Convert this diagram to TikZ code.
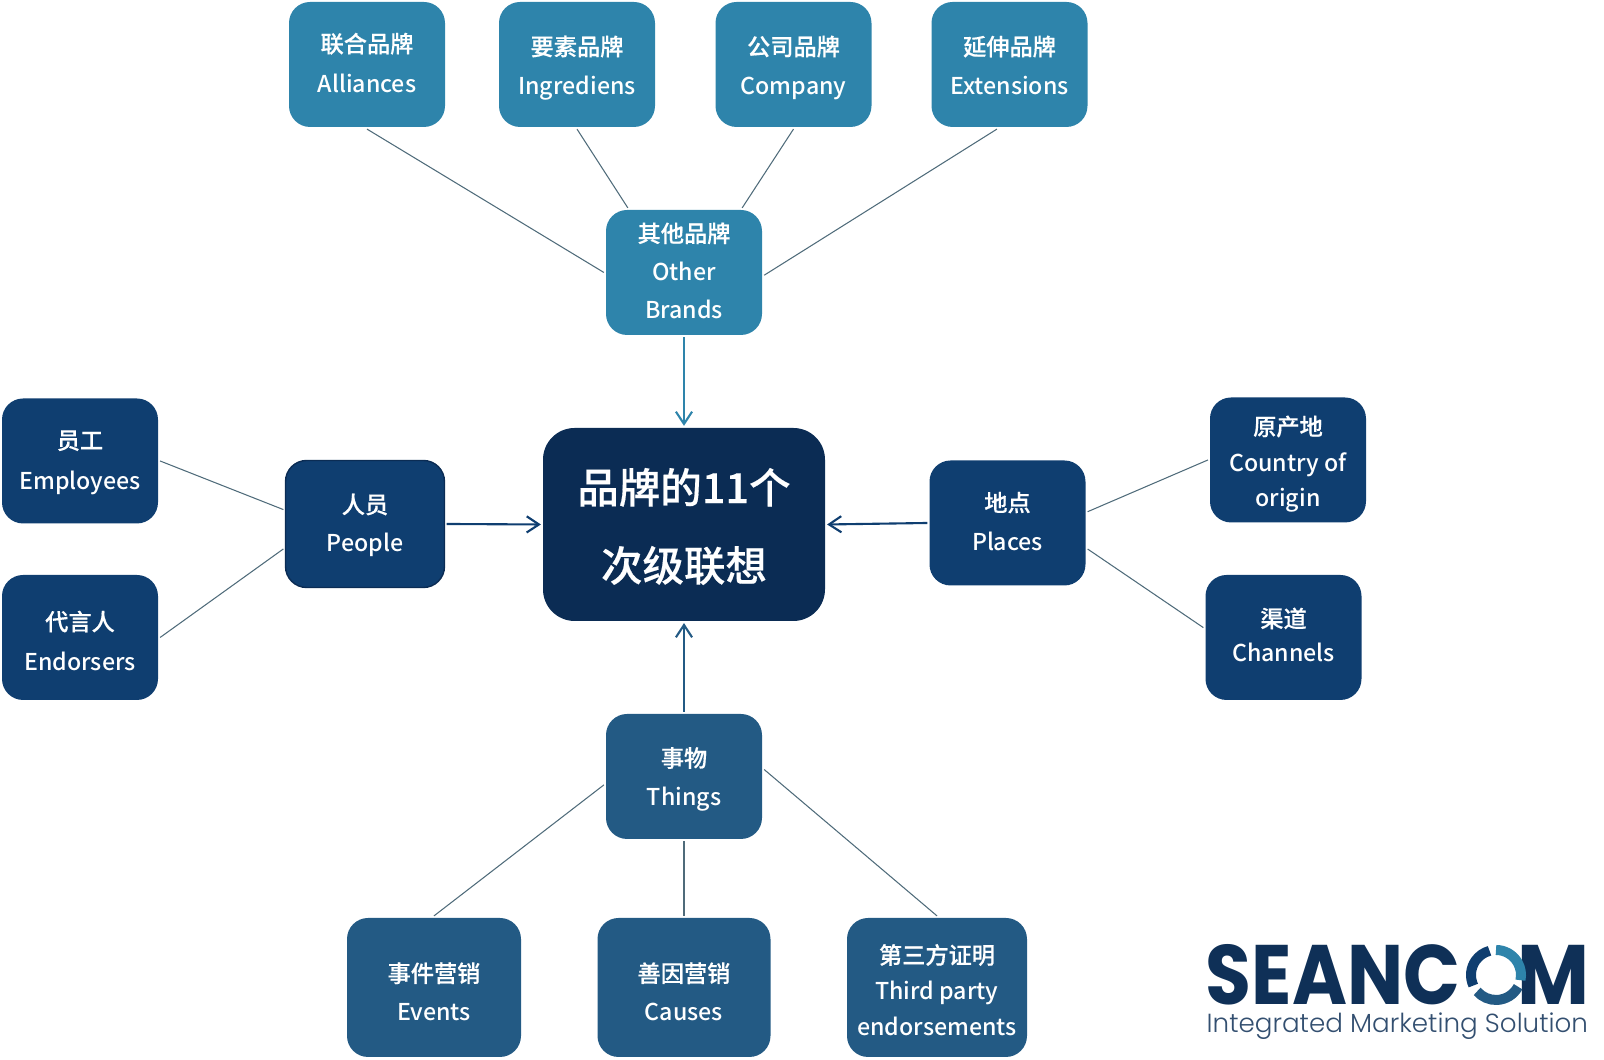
\documentclass[tikz,border=0pt]{standalone}
\usepackage{fontspec}
\usepackage{graphicx}
\setmainfont{Noto Sans CJK SC Medium}
\newfontfamily\han[FakeBold=0.35]{Noto Sans CJK SC Medium}
\newfontfamily\logofont{Poppins}
\newfontfamily\taglinefont{Poppins Light}
\usetikzlibrary{arrows.meta}
\definecolor{tealbox}{HTML}{2E84AB}
\definecolor{navybox}{HTML}{0F3E70}
\definecolor{midbox}{HTML}{235A84}
\definecolor{corebox}{HTML}{0B2C54}
\definecolor{logoink}{HTML}{0F3057}
\definecolor{linkgray}{HTML}{4F6B7A}

\begin{document}
\begin{tikzpicture}[
    >={Straight Barb[length=3.5pt,width=4.6pt]},
    brand/.style={
        rectangle,
        rounded corners=6pt,
        inner sep=0pt,
        outer sep=0.6pt,
        align=center,
        text=white,
        font=\fontsize{6.6}{11}\selectfont,
        minimum width=1.56cm,
        minimum height=1.25cm
    },
    link/.style={line width=0.3pt, linkgray},
    feed/.style={->, line width=0.6pt}
]
    \useasboundingbox (0, 0) rectangle (16.04, 10.6);

    % core
    \node (core) [brand, fill=corebox, rounded corners=9pt, minimum width=2.82cm,
        minimum height=1.93cm, font=\fontsize{11.8}{22.2}\selectfont\han, shift={(6.84, 5.355)}]
    {
        \rule{0pt}{16.7pt}品牌的11个\\次级联想\strut
    };

    % other brands
    \node (other) [brand, fill=tealbox, font=\fontsize{6.6}{10.8}\selectfont, shift={(6.84, 7.875)}]
    {
        \strut{\han 其他品牌}\\Other\\Brands\strut
    };
    \node (alliances) [brand, fill=tealbox, font=\fontsize{6.6}{11.4}\selectfont, shift={(3.67, 9.955)}]
    {
        \strut{\han 联合品牌}\\Alliances\strut
    };
    \node (ingredients) [brand, fill=tealbox, shift={(5.77, 9.955)}]
    {
        \rule{0pt}{9.1pt}{\han 要素品牌}\\Ingrediens\strut
    };
    \node (company) [brand, fill=tealbox, shift={(7.935, 9.955)}]
    {
        \rule{0pt}{9.1pt}{\han 公司品牌}\\Company\strut
    };
    \node (extensions) [brand, fill=tealbox, shift={(10.095, 9.955)}]
    {
        \rule{0pt}{9.1pt}{\han 延伸品牌}\\Extensions\strut
    };

    % people
    \node (people) [brand, fill=navybox, draw=corebox, minimum width=1.59cm, minimum height=1.27cm, shift={(3.65, 5.36)}]
    {
        \rule{0pt}{8.2pt}{\han 人员}\\People\strut
    };
    \node (employees) [brand, fill=navybox, font=\fontsize{6.6}{11.4}\selectfont, shift={(0.8, 5.99)}]
    {
        \strut{\han 员工}\\Employees\strut
    };
    \node (endorsers) [brand, fill=navybox, font=\fontsize{6.6}{11.4}\selectfont, shift={(0.8, 4.225)}]
    {
        \rule{0pt}{10.8pt}{\han 代言人}\\Endorsers\strut
    };

    % places
    \node (places) [brand, fill=navybox, shift={(10.075, 5.37)}]
    {
        \strut{\han 地点}\\Places\strut
    };
    \node (country) [brand, fill=navybox, font=\fontsize{6.6}{10.2}\selectfont, shift={(12.88, 6)}]
    {
        \rule{0pt}{9.4pt}{\han 原产地}\\Country of\\origin\strut
    };
    \node (channels) [brand, fill=navybox, font=\fontsize{6.6}{9.6}\selectfont, shift={(12.835, 4.225)}]
    {
        \strut{\han 渠道}\\Channels\strut
    };

    % things
    \node (things) [brand, fill=midbox, shift={(6.84, 2.835)}]
    {
        \rule{0pt}{8.8pt}{\han 事物}\\Things\strut
    };
    \node (events) [brand, fill=midbox, minimum width=1.74cm, minimum height=1.39cm, shift={(4.34, 0.725)}]
    {
        \rule{0pt}{11.2pt}{\han 事件营销}\\Events\strut
    };
    \node (causes) [brand, fill=midbox, minimum width=1.73cm, minimum height=1.39cm, shift={(6.84, 0.725)}]
    {
        \rule{0pt}{11.2pt}{\han 善因营销}\\Causes\strut
    };
    \node (third) [brand, fill=midbox, minimum width=1.8cm, minimum height=1.39cm,
        font=\fontsize{6.6}{10.2}\selectfont, shift={(9.37, 0.725)}]
    {
        \rule{0pt}{10pt}{\han 第三方证明}\\Third party\\endorsements\strut
    };

    \draw[link] (alliances.south) to (other.west);
    \draw[link] (ingredients.south) to (other.131);
    \draw[link] (company.south) to (other.48);
    \draw[link] (extensions.259) to (other.-2);
    \draw[link] (employees.east) to (people.170);
    \draw[link] (endorsers.east) to (people.197);
    \draw[link] (places.8) to (country.west);
    \draw[link] (places.-18) to (channels.173);
    \draw[link] (things.186) to (events.north);
    \draw[link] (things.south) to (causes.north);
    \draw[link] (things.5) to (third.north);

    \draw[feed, tealbox] (other.south) to (core.north);
    \draw[feed, navybox] (people.east) to (core.west);
    \draw[feed, navybox] (places.west) to (core.east);
    \draw[feed, midbox] (things.north) to (core.south);

    % logo
    \node (seanc) [anchor=base west, inner sep=0pt, text=logoink, font=\logofont\fontsize{24}{24}\selectfont\bfseries, shift={(12.05, 0.55)}]
    {
        \scalebox{0.885}[1]{SEANC}
    };
    \node (seanm) [anchor=base west, inner sep=0pt, text=logoink, font=\logofont\fontsize{24}{24}\selectfont\bfseries, shift={(15.17, 0.55)}]
    {
        \scalebox{0.93}[1]{M}
    };
    \node (tagline) [anchor=base west, inner sep=0pt, text=logoink!85, font=\taglinefont\fontsize{7.45}{7.45}\selectfont, shift={(12.06, 0.27)}]
    {
        Integrated Marketing Solution
    };
    \draw[tealbox, line width=0.1cm] (14.96, 0.85) ++(90:0.25) arc (90:-12:0.25);
    \draw[midbox, line width=0.1cm] (14.96, 0.85) ++(-28:0.25) arc (-28:-139:0.25);
    \draw[navybox, line width=0.1cm] (14.96, 0.85) ++(205:0.25) arc (205:105:0.25);
\end{tikzpicture}
\end{document}
